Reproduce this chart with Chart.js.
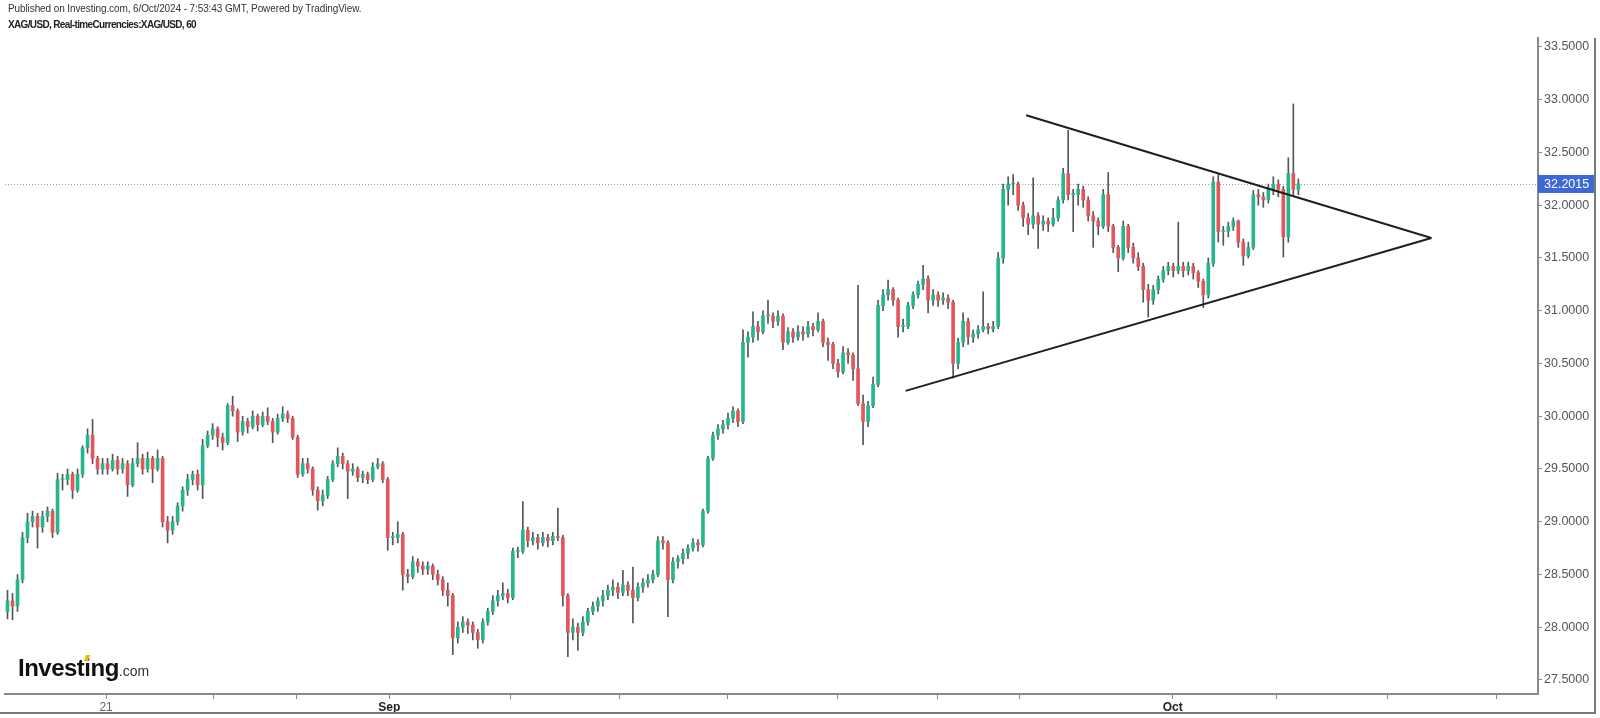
<!DOCTYPE html>
<html>
<head>
<meta charset="utf-8">
<title>XAG/USD 60</title>
<script src="https://cdn.jsdelivr.net/npm/chart.js@4.4.1/dist/chart.umd.min.js"></script>
<style>
  html, body { margin: 0; padding: 0; background: #fff; }
  #wrap { position: relative; width: 1600px; height: 718px; }
  #pub { position: absolute; left: 8px; top: 3px; font: 10px "Liberation Sans", Arial, sans-serif; letter-spacing: -0.1px; color: #333; white-space: nowrap; }
  #sym { position: absolute; left: 8px; top: 19px; font: bold 10px "Liberation Sans", Arial, sans-serif; letter-spacing: -0.65px; color: #222; white-space: nowrap; }
  #logo { position: absolute; left: 18px; top: 654px; line-height: 27px; font-family: "Liberation Sans", Arial, sans-serif; color: #111; white-space: nowrap; }
  #logo b { font-size: 24px; letter-spacing: -0.5px; }
  #logo span { font-size: 14px; color: #333; }
  #dot { position: absolute; left: 85px; top: 655px; width: 4px; height: 6px; background: #f2b705; transform: skewX(-20deg); }
</style>
</head>
<body>
<div id="wrap">
  <canvas id="chart"></canvas>
  <div id="pub">Published on Investing.com, 6/Oct/2024 - 7:53:43 GMT, Powered by TradingView.</div>
  <div id="sym">XAG/USD, Real-timeCurrencies:XAG/USD, 60</div>
  <div id="logo"><b>Investing</b><span>.com</span></div>
  <div id="dot"></div>
</div>
<script>
// Hourly XAG/USD candles (one entry per candle slot)
const opens = [
  28.15,28.25,28.2,28.45,28.85,29.0,29.05,28.95,29.05,29.1,
  28.9,29.4,29.4,29.45,29.3,29.45,29.7,29.82,29.6,29.5,
  29.55,29.5,29.58,29.5,29.55,29.35,29.55,29.6,29.5,29.6,
  29.5,29.6,29.0,28.92,29.0,29.15,29.3,29.4,29.45,29.35,
  29.72,29.82,29.88,29.8,29.75,30.1,30.05,29.85,29.95,29.9,
  30.0,29.92,30.0,29.95,29.85,29.98,30.02,29.98,29.8,29.45,
  29.55,29.5,29.3,29.2,29.25,29.4,29.55,29.62,29.55,29.48,
  29.5,29.42,29.45,29.4,29.52,29.55,29.4,28.85,28.85,28.88,
  28.5,28.48,28.62,28.58,28.55,28.58,28.5,28.45,28.35,28.3,
  27.9,28.0,28.05,28.02,27.95,27.88,28.05,28.15,28.25,28.3,
  28.32,28.28,28.72,28.72,28.92,28.82,28.85,28.8,28.85,28.82,
  28.86,28.85,28.3,27.95,28.0,27.95,28.05,28.15,28.2,28.25,
  28.3,28.35,28.38,28.33,28.4,28.35,28.28,28.38,28.42,28.45,
  28.5,28.82,28.8,28.45,28.62,28.65,28.7,28.75,28.8,28.78,
  29.1,29.6,29.82,29.88,29.92,29.98,30.05,29.95,30.7,30.75,
  30.85,30.8,30.95,30.95,30.9,30.95,30.7,30.8,30.75,30.8,
  30.78,30.85,30.82,30.9,30.7,30.68,30.5,30.42,30.6,30.58,
  30.45,30.12,29.95,30.1,30.3,31.05,31.15,31.2,31.1,30.85,
  30.85,31.05,31.15,31.25,31.3,31.1,31.15,31.1,31.12,31.08,
  30.5,30.7,30.9,30.75,30.78,30.82,30.85,30.83,30.85,31.5,
  32.15,32.2,32.2,32.0,31.88,31.82,31.9,31.82,31.85,31.82,
  31.88,32.05,32.3,32.1,32.1,32.15,32.05,31.9,31.85,31.8,
  32.1,31.8,31.6,31.5,31.8,31.6,31.5,31.42,31.2,31.1,
  31.2,31.3,31.38,31.42,31.38,31.42,31.38,31.42,31.36,31.28,
  31.15,31.45,32.22,31.75,31.75,31.8,31.85,31.65,31.52,31.6,
  32.1,32.08,32.05,32.15,32.2,32.15,31.7,32.3,32.15
];
const highs = [
  28.35,28.32,28.5,28.9,29.08,29.1,29.08,29.1,29.14,29.12,
  29.46,29.45,29.5,29.47,29.5,29.72,29.88,29.97,29.62,29.6,
  29.6,29.64,29.62,29.6,29.58,29.6,29.75,29.64,29.66,29.62,
  29.68,29.62,29.05,29.05,29.18,29.33,29.45,29.48,29.49,29.78,
  29.86,29.93,29.9,29.84,30.12,30.19,30.07,30.0,29.98,30.05,
  30.02,30.04,30.08,29.98,30.02,30.09,30.05,30.0,29.82,29.6,
  29.6,29.52,29.33,29.3,29.43,29.58,29.7,29.65,29.58,29.55,
  29.52,29.48,29.47,29.56,29.6,29.57,29.42,28.9,29.0,28.9,
  28.55,28.67,28.65,28.62,28.62,28.6,28.54,28.48,28.42,28.32,
  28.05,28.1,28.08,28.05,27.98,28.08,28.18,28.3,28.35,28.42,
  28.36,28.75,28.76,29.19,28.95,28.9,28.88,28.9,28.88,28.9,
  29.13,28.87,28.32,28.08,28.04,28.1,28.18,28.24,28.28,28.35,
  28.4,28.45,28.42,28.54,28.43,28.57,28.42,28.46,28.5,28.54,
  28.86,28.86,28.82,28.66,28.68,28.74,28.78,28.84,28.83,29.12,
  29.62,29.85,29.92,29.96,30.03,30.09,30.07,30.82,30.8,30.99,
  30.9,31.0,31.1,30.98,31.0,30.97,30.84,30.83,30.86,30.85,
  30.9,30.88,30.98,30.92,30.74,30.7,30.54,30.66,30.64,30.6,
  31.24,30.2,30.14,30.37,31.1,31.2,31.29,31.22,31.12,30.92,
  31.08,31.18,31.28,31.43,31.33,31.2,31.18,31.17,31.15,31.1,
  30.74,30.98,30.93,30.82,30.86,31.18,30.88,30.9,31.55,32.2,
  32.27,32.29,32.22,32.03,31.92,32.26,31.93,31.9,31.88,31.97,
  32.08,32.35,32.71,32.15,32.2,32.18,32.08,31.94,31.88,32.15,
  32.31,31.82,31.62,31.85,31.82,31.64,31.55,31.45,31.25,31.24,
  31.33,31.42,31.46,31.45,31.84,31.46,31.46,31.45,31.38,31.3,
  31.5,32.27,32.29,31.8,31.84,31.88,31.86,31.68,31.65,32.14,
  32.15,32.12,32.2,32.27,32.24,32.18,32.45,32.96,32.25
];
const lows = [
  28.08,28.07,28.15,28.42,28.8,28.95,28.75,28.9,29.0,28.85,
  28.88,29.3,29.35,29.22,29.28,29.42,29.65,29.55,29.45,29.45,
  29.45,29.48,29.45,29.46,29.24,29.33,29.52,29.45,29.47,29.37,
  29.48,28.95,28.8,28.88,28.97,29.1,29.25,29.35,29.3,29.22,
  29.7,29.78,29.71,29.68,29.73,30.0,29.76,29.82,29.84,29.88,
  29.86,29.9,29.92,29.75,29.83,29.95,29.94,29.78,29.42,29.43,
  29.46,29.25,29.11,29.15,29.22,29.38,29.52,29.5,29.22,29.44,
  29.38,29.37,29.36,29.38,29.5,29.37,28.73,28.78,28.8,28.35,
  28.42,28.46,28.52,28.5,28.5,28.45,28.4,28.3,28.2,27.74,
  27.85,27.95,27.94,27.88,27.8,27.85,28.02,28.12,28.2,28.26,
  28.23,28.26,28.66,28.7,28.76,28.78,28.74,28.77,28.76,28.78,
  28.82,28.2,27.72,27.88,27.78,27.92,28.02,28.12,28.15,28.2,
  28.26,28.3,28.27,28.3,28.3,28.04,28.25,28.33,28.38,28.42,
  28.48,28.74,28.1,28.42,28.56,28.6,28.65,28.72,28.72,28.76,
  29.08,29.58,29.78,29.84,29.88,29.94,29.9,29.93,30.56,30.7,
  30.72,30.78,30.88,30.84,30.86,30.63,30.68,30.7,30.72,30.72,
  30.75,30.76,30.8,30.66,30.53,30.45,30.37,30.4,30.5,30.34,
  30.1,29.73,29.9,30.08,30.28,31.0,31.1,31.05,30.75,30.8,
  30.83,31.02,31.12,31.2,30.98,31.05,31.04,31.06,31.02,30.36,
  30.45,30.66,30.68,30.7,30.74,30.8,30.78,30.8,30.83,31.45,
  32.0,32.1,31.95,31.8,31.72,31.78,31.59,31.76,31.75,31.8,
  31.85,32.02,32.05,31.75,32.0,31.98,31.85,31.6,31.72,31.78,
  31.75,31.55,31.37,31.48,31.55,31.45,31.38,31.08,30.94,31.06,
  31.16,31.27,31.34,31.32,31.35,31.32,31.34,31.3,31.22,31.03,
  31.12,31.42,31.65,31.62,31.7,31.76,31.6,31.43,31.5,31.58,
  32.0,31.98,32.02,32.1,32.08,31.51,31.65,32.1,32.1
];
const closes = [
  28.25,28.2,28.45,28.85,29.0,29.05,28.95,29.05,29.1,28.9,
  29.4,29.4,29.45,29.3,29.45,29.7,29.82,29.6,29.5,29.55,
  29.5,29.58,29.5,29.55,29.35,29.55,29.6,29.5,29.6,29.5,
  29.6,29.0,28.92,29.0,29.15,29.3,29.4,29.45,29.35,29.72,
  29.82,29.88,29.8,29.75,30.1,30.05,29.85,29.95,29.9,30.0,
  29.92,30.0,29.95,29.85,29.98,30.02,29.98,29.8,29.45,29.55,
  29.5,29.3,29.2,29.25,29.4,29.55,29.62,29.55,29.48,29.5,
  29.42,29.45,29.4,29.52,29.55,29.4,28.85,28.85,28.88,28.5,
  28.48,28.62,28.58,28.55,28.58,28.5,28.45,28.35,28.3,27.9,
  28.0,28.05,28.02,27.95,27.88,28.05,28.15,28.25,28.3,28.32,
  28.28,28.72,28.72,28.92,28.82,28.85,28.8,28.85,28.82,28.86,
  28.85,28.3,27.95,28.0,27.95,28.05,28.15,28.2,28.25,28.3,
  28.35,28.38,28.33,28.4,28.35,28.28,28.38,28.42,28.45,28.5,
  28.82,28.8,28.45,28.62,28.65,28.7,28.75,28.8,28.78,29.1,
  29.6,29.82,29.88,29.92,29.98,30.05,29.95,30.7,30.75,30.85,
  30.8,30.95,30.95,30.9,30.95,30.7,30.8,30.75,30.8,30.78,
  30.85,30.82,30.9,30.7,30.68,30.5,30.42,30.6,30.58,30.45,
  30.12,29.95,30.1,30.3,31.05,31.15,31.2,31.1,30.85,30.85,
  31.05,31.15,31.25,31.3,31.1,31.15,31.1,31.12,31.08,30.5,
  30.7,30.9,30.75,30.78,30.82,30.85,30.83,30.85,31.5,32.15,
  32.2,32.2,32.0,31.88,31.82,31.9,31.82,31.85,31.82,31.88,
  32.05,32.3,32.1,32.1,32.15,32.05,31.9,31.85,31.8,32.1,
  31.8,31.6,31.5,31.8,31.6,31.5,31.42,31.2,31.1,31.2,
  31.3,31.38,31.42,31.38,31.42,31.38,31.42,31.36,31.28,31.15,
  31.45,32.22,31.75,31.75,31.8,31.85,31.65,31.52,31.6,32.1,
  32.08,32.05,32.15,32.2,32.15,31.7,32.3,32.15,32.2015
];

// Axis ticks (x in candle slots)
const xTickPos = [19.7, 41.1, 57.7, 76.3, 100.5, 122.3, 143.9, 165.9, 185.9, 202.3, 232.9, 253.7, 275.9, 297.7];
const xTickLabels = ["21", "", "", "Sep", "", "", "", "", "", "", "Oct", "", "", ""];
const yTicks = [27.5, 28, 28.5, 29, 29.5, 30, 30.5, 31, 31.5, 32, 32.5, 33, 33.5];

// Hand-drawn triangle (slot, price)
const upperLineX = [203.6, 284.6];
const upperLineY = [32.853, 31.69];
const lowerLineX = [179.5, 284.6];
const lowerLineY = [30.24, 31.69];

const lastPrice = closes[closes.length - 1];

Chart.defaults.font.family = '"Liberation Sans", Arial, sans-serif';

const UP = "#26b68e";
const DOWN = "#e3565c";
const WICK = "#555555";

const wickData = opens.map((o, i) => ({ x: i, y: [lows[i], highs[i]] }));
const bodyData = opens.map((o, i) => ({ x: i, y: [Math.min(o, closes[i]), Math.max(o, closes[i])] }));
const bodyColors = opens.map((o, i) => (closes[i] >= o ? UP : DOWN));

const priceLine = {
  id: "priceLine",
  beforeDatasetsDraw(chart) {
    const { ctx, chartArea } = chart;
    const y = Math.round(chart.scales.y.getPixelForValue(lastPrice)) + 0.5;
    ctx.save();
    ctx.strokeStyle = "#7fa7bf";
    ctx.lineWidth = 1;
    ctx.setLineDash([1, 2]);
    ctx.beginPath();
    ctx.moveTo(chartArea.left, y);
    ctx.lineTo(chartArea.right, y);
    ctx.stroke();
    ctx.restore();
  },
  afterDraw(chart) {
    const { ctx, chartArea } = chart;
    const y = chart.scales.y.getPixelForValue(lastPrice);
    ctx.save();
    // price badge
    ctx.fillStyle = "#3d68d8";
    ctx.fillRect(chartArea.right, y - 9, chart.width - 5 - chartArea.right, 18);
    ctx.fillStyle = "#fff";
    ctx.font = '12.5px "Liberation Sans", Arial, sans-serif';
    ctx.textBaseline = "middle";
    ctx.fillText(lastPrice.toFixed(4), chartArea.right + 6, y + 1);
    // outer frame
    ctx.strokeStyle = "#7a7a7a";
    ctx.lineWidth = 2;
    ctx.beginPath();
    ctx.moveTo(chart.width - 5, chartArea.top);
    ctx.lineTo(chart.width - 5, chart.height - 5);
    ctx.lineTo(0, chart.height - 5);
    ctx.stroke();
    ctx.restore();
  }
};

new Chart(document.getElementById("chart"), {
  type: "bar",
  data: {
    datasets: [
      {
        type: "line",
        data: upperLineX.map((x, i) => ({ x, y: upperLineY[i] })),
        borderColor: "#1f1f1f",
        borderWidth: 2,
        pointRadius: 0,
        order: 0
      },
      {
        type: "line",
        data: lowerLineX.map((x, i) => ({ x, y: lowerLineY[i] })),
        borderColor: "#1f1f1f",
        borderWidth: 2,
        pointRadius: 0,
        order: 0
      },
      {
        data: bodyData,
        backgroundColor: bodyColors,
        barThickness: 3,
        minBarLength: 1,
        grouped: false,
        order: 1
      },
      {
        data: wickData,
        backgroundColor: WICK,
        barThickness: 1,
        grouped: false,
        order: 2
      }
    ]
  },
  options: {
    responsive: true,
    maintainAspectRatio: false,
    animation: false,
    layout: { padding: { top: 38, left: 5, right: 5, bottom: 5 } },
    plugins: { legend: { display: false }, tooltip: { enabled: false } },
    scales: {
      x: {
        type: "linear",
        min: -0.5,
        max: 305.9,
        offset: false,
        grid: { offset: false, drawOnChartArea: false, drawTicks: true, tickLength: 5, color: "#888" },
        border: { display: true, color: "#888", width: 2 },
        ticks: {
          autoSkip: false,
          maxRotation: 0,
          padding: 1,
          color: (c) => (xTickLabels[c.index] === "21" ? "#666" : "#222"),
          font: (c) => ({ size: 12, weight: xTickLabels[c.index] === "21" ? "normal" : "bold" }),
          callback: (v, i) => xTickLabels[i]
        },
        afterBuildTicks: (s) => { s.ticks = xTickPos.map((v) => ({ value: v })); },
        afterFit: (s) => { s.height = 19; }
      },
      y: {
        position: "right",
        min: 27.367,
        max: 33.585,
        grid: { drawOnChartArea: false, drawTicks: true, tickLength: 4, color: "#888" },
        border: { display: true, color: "#888", width: 2 },
        ticks: {
          padding: 2,
          color: "#555",
          font: { size: 12.5 },
          callback: (v) => Number(v).toFixed(4)
        },
        afterBuildTicks: (s) => { s.ticks = yTicks.map((v) => ({ value: v })); },
        afterFit: (s) => { s.width = 57; }
      }
    }
  },
  plugins: [priceLine]
});
</script>
</body>
</html>
